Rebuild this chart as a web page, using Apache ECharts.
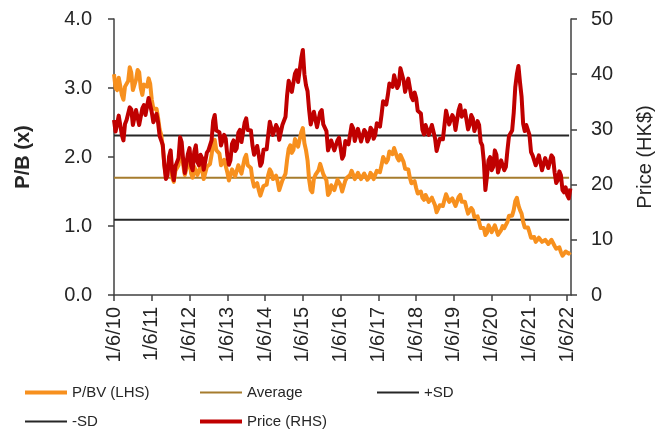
<!DOCTYPE html>
<html>
<head>
<meta charset="utf-8">
<script src="https://cdn.jsdelivr.net/npm/echarts@6/dist/echarts.min.js"></script>
<style>
html,body{margin:0;padding:0;background:#fff;}
#chart{width:657px;height:431px;}
</style>
</head>
<body>
<div id="chart"></div>
<script>
// Observations starting 1 June 2010: start-of-month and mid-month readings
var xTickLabels = ['1/6/10','1/6/11','1/6/12','1/6/13','1/6/14','1/6/15','1/6/16','1/6/17','1/6/18','1/6/19','1/6/20','1/6/21','1/6/22'];

var pbMonthly = [
 3.20,2.97,3.14,2.83,3.04,3.30,2.97,3.12,3.23,2.90,3.04,3.14,
 2.83,2.68,2.57,2.32,1.88,1.70,1.96,1.64,1.81,2.10,1.88,1.74,
 1.96,1.70,1.88,1.74,1.81,1.70,1.88,2.03,2.25,2.10,1.88,1.96,
 1.78,1.67,1.84,1.74,1.88,1.78,2.03,1.88,1.67,1.59,1.52,1.45,
 1.59,1.74,1.78,1.70,1.64,1.52,1.67,1.96,2.17,2.10,2.28,2.17,
 2.42,2.10,1.67,1.49,1.74,1.81,1.88,1.74,1.45,1.59,1.52,1.67,
 1.59,1.52,1.70,1.74,1.78,1.67,1.78,1.67,1.74,1.70,1.74,1.70,
 1.78,1.88,1.99,1.96,2.07,2.13,1.99,2.03,1.93,1.84,1.70,1.64,
 1.55,1.49,1.41,1.45,1.35,1.41,1.30,1.20,1.30,1.38,1.45,1.35,
 1.38,1.30,1.45,1.35,1.26,1.20,1.23,1.12,1.06,0.97,0.87,1.01,
 0.91,1.01,0.87,0.94,0.97,1.06,1.16,1.23,1.41,1.23,1.06,0.97,
 0.91,0.83,0.77,0.83,0.77,0.80,0.74,0.80,0.71,0.68,0.62,0.58,
 0.61,0.62
];
var pbMidMonth = [
 3.00,3.15,2.90,3.02,3.10,3.22,2.98,3.26,3.00,3.05,3.02,3.06,
 2.70,2.70,2.40,2.15,1.72,1.92,1.70,1.80,1.88,2.05,1.74,1.92,
 1.76,1.86,1.74,1.86,1.68,1.86,1.90,2.20,2.10,2.05,1.86,1.94,
 1.66,1.82,1.72,1.88,1.76,1.98,1.88,1.84,1.57,1.62,1.44,1.58,
 1.60,1.82,1.68,1.73,1.52,1.66,1.76,2.12,2.06,2.26,2.15,2.36,
 2.20,1.95,1.52,1.68,1.72,1.90,1.75,1.66,1.48,1.60,1.54,1.68,
 1.50,1.66,1.68,1.80,1.68,1.77,1.68,1.76,1.67,1.77,1.68,1.80,
 1.78,2.00,1.92,2.08,2.04,2.12,1.95,2.04,1.83,1.82,1.62,1.65,
 1.47,1.50,1.38,1.45,1.33,1.40,1.20,1.30,1.29,1.46,1.35,1.40,
 1.29,1.42,1.35,1.35,1.18,1.26,1.13,1.14,0.97,0.97,0.90,1.01,
 0.92,0.99,0.86,1.00,0.97,1.15,1.15,1.36,1.30,1.18,0.98,0.98,
 0.83,0.84,0.76,0.84,0.75,0.81,0.73,0.79,0.67,0.69,0.57,0.63,
 0.60
];

var priceMonthly = [
 31.7,29.9,32.6,28.0,31.7,34.0,30.8,33.5,30.8,33.8,32.6,35.7,
 33.1,32.0,31.3,28.6,23.5,21.7,26.2,20.8,23.5,28.6,24.4,22.2,
 26.6,22.6,27.1,23.5,24.8,23.0,26.2,28.0,32.6,29.5,27.1,29.0,
 25.3,24.4,28.0,26.6,29.9,28.0,32.0,30.2,27.1,26.2,25.3,24.0,
 26.2,29.0,31.3,29.0,30.2,28.4,30.8,36.2,38.9,37.1,40.7,38.9,
 44.4,38.0,33.5,30.8,33.1,30.2,33.5,30.8,26.2,28.0,26.2,28.0,
 26.6,25.3,28.0,29.0,30.2,28.0,29.9,28.0,29.5,28.4,29.9,29.0,
 30.8,32.6,35.3,36.2,38.0,39.8,37.5,41.1,38.9,37.1,38.9,35.3,
 35.7,33.5,29.9,30.8,29.0,30.8,28.4,26.2,28.0,30.8,33.5,30.8,
 32.0,30.2,34.4,32.6,31.7,30.8,32.0,29.9,30.8,27.1,19.0,24.4,
 22.6,26.2,22.2,24.4,22.6,26.2,29.0,33.0,40.0,38.5,31.0,30.8,
 29.0,25.3,23.5,25.3,22.6,24.8,23.0,25.3,22.2,20.8,21.7,18.6,
 18.1,19.3
];
var priceMidMonth = [
 29.6,32.5,29.0,31.0,31.6,33.6,30.9,33.4,31.0,34.4,32.9,35.6,
 31.3,32.8,28.8,27.2,21.0,25.1,22.3,23.3,24.8,27.7,22.1,25.6,
 23.4,26.0,24.1,25.4,22.7,25.8,25.9,31.5,29.8,29.5,26.8,28.3,
 23.6,27.4,26.1,29.4,27.7,31.2,29.9,29.8,25.4,27.0,23.4,26.3,
 26.4,31.4,29.0,30.8,28.1,30.8,32.3,38.8,36.8,40.1,38.6,42.9,
 40.0,36.9,30.9,33.2,30.4,33.1,30.9,29.7,25.9,28.3,25.9,28.5,
 24.7,27.9,27.3,30.8,27.9,30.1,27.8,29.9,27.8,30.3,28.3,31.1,
 30.5,35.1,34.5,38.3,37.7,39.9,38.1,41.2,36.8,39.2,35.9,36.7,
 33.4,32.9,29.1,31.1,28.7,30.8,26.1,28.3,28.2,33.4,30.9,32.6,
 29.9,33.5,32.3,33.4,30.0,32.6,29.7,31.5,27.7,24.2,21.5,25.0,
 23.2,25.4,22.1,24.7,23.2,28.8,29.8,37.7,41.5,35.9,29.7,31.1,
 25.9,25.6,23.2,25.2,22.5,25.1,22.9,24.9,20.3,22.4,19.0,19.5,
 17.5
];

var averagePB = 1.70;
var plusSD = 2.31;
var minusSD = 1.09;
var lineEnd = 12.05;

function toSeries(monthly, mid){
  var out = [];
  for (var i = 0; i < monthly.length; i++){
    out.push([i/12, monthly[i]]);
    if (i < mid.length) out.push([(i+0.5)/12, mid[i]]);
  }
  return out;
}
function flat(v){ return [[0, v],[lineEnd, v]]; }

var font = 'Liberation Sans, Arial, sans-serif';
var axisColor = '#404040';
var textColor = '#262626';

var chart = echarts.init(document.getElementById('chart'));
var legendBase = {itemWidth:42, icon:'rect', textStyle:{fontFamily:font,fontSize:15,color:textColor}, itemGap:0, padding:0, orient:'horizontal', selectedMode:false};
function lg(name, left, top, h){ return Object.assign({}, legendBase, {data:[name], left:left, top:top, itemHeight:h}); }

chart.setOption({
  animation:false,
  backgroundColor:'#fff',
  grid:{left:114, right:86, top:19, bottom:136, containLabel:false, outerBoundsMode:'none'},
  legend:[
    lg('P/BV (LHS)', 25, 385, 4),
    lg('Average', 200, 385, 2),
    lg('+SD', 377, 385, 2),
    lg('-SD', 25, 414, 2),
    lg('Price (RHS)', 200, 414, 4)
  ],
  xAxis:{
    type:'value', min:0, max:12.1, interval:1,
    axisLine:{show:true, onZero:false, lineStyle:{color:axisColor, width:1.5}},
    axisTick:{show:true, length:6, lineStyle:{color:axisColor, width:1.5}},
    splitLine:{show:false},
    axisLabel:{rotate:90, margin:12, fontFamily:font, fontSize:20, color:textColor, showMaxLabel:false,
      formatter:function(v){ var k=Math.round(v); return Math.abs(v-k)<1e-6 && xTickLabels[k] ? xTickLabels[k] : ''; }}
  },
  yAxis:[
    {type:'value', min:0, max:4, interval:1, position:'left',
     name:'P/B (x)', nameLocation:'middle', nameRotate:90, nameGap:81,
     nameTextStyle:{fontFamily:font, fontSize:20, fontWeight:'bold', color:textColor},
     axisLine:{show:true, lineStyle:{color:axisColor, width:1.5}},
     axisTick:{show:true, length:6, lineStyle:{color:axisColor, width:1.5}},
     splitLine:{show:false},
     axisLabel:{margin:22, fontFamily:font, fontSize:20, color:textColor, formatter:function(v){return v.toFixed(1);}}
    },
    {type:'value', min:0, max:50, interval:10, position:'right',
     name:'Price (HK$)', nameLocation:'middle', nameRotate:90, nameGap:64,
     nameTextStyle:{fontFamily:font, fontSize:20, color:textColor},
     axisLine:{show:true, lineStyle:{color:axisColor, width:1.5}},
     axisTick:{show:true, length:6, lineStyle:{color:axisColor, width:1.5}},
     splitLine:{show:false},
     axisLabel:{margin:20, fontFamily:font, fontSize:20, color:textColor}
    }
  ],
  series:[
    {name:'Average', type:'line', yAxisIndex:0, data:flat(averagePB), symbol:'none', color:'#A67C2E', lineStyle:{width:2, color:'#A67C2E'}, z:1},
    {name:'+SD', type:'line', yAxisIndex:0, data:flat(plusSD), symbol:'none', color:'#262626', lineStyle:{width:2, color:'#262626'}, z:1},
    {name:'-SD', type:'line', yAxisIndex:0, data:flat(minusSD), symbol:'none', color:'#262626', lineStyle:{width:2, color:'#262626'}, z:1},
    {name:'P/BV (LHS)', type:'line', yAxisIndex:0, data:toSeries(pbMonthly, pbMidMonth), symbol:'none', color:'#F7901E', lineStyle:{width:4, color:'#F7901E', join:'round'}, z:2},
    {name:'Price (RHS)', type:'line', yAxisIndex:1, data:toSeries(priceMonthly, priceMidMonth), symbol:'none', color:'#C00000', lineStyle:{width:4, color:'#C00000', join:'round'}, z:3}
  ]
});
</script>
</body>
</html>
